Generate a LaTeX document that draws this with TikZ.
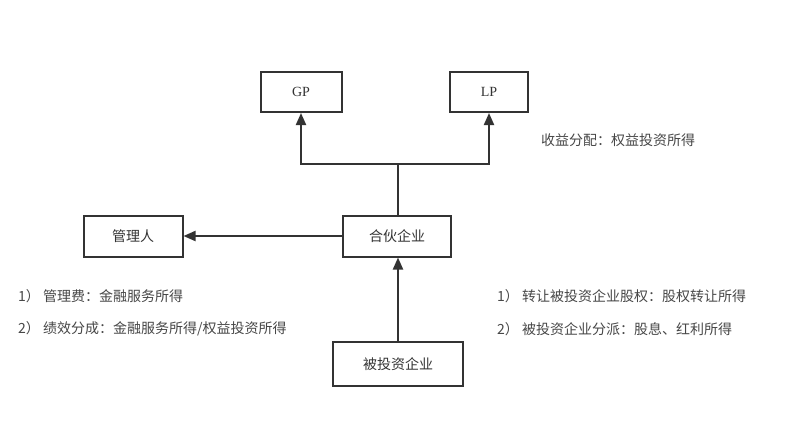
\documentclass[tikz,border=0pt]{standalone}
\usepackage{fontspec}
\setmainfont{Liberation Serif}
\newfontfamily\cjk{Noto Sans CJK SC}
\usetikzlibrary{arrows.meta}
\definecolor{ink}{HTML}{333333}

\begin{document}
\begin{tikzpicture}[x=1pt,y=-1pt,
    box/.style={draw=ink,line width=2pt,text=ink,inner sep=0pt,font=\fontsize{14}{16}\selectfont\cjk},
    note/.style={anchor=west,inner sep=0pt,text=ink!90,font=\fontsize{14}{16}\selectfont\cjk},
    arr/.style={draw=ink,line width=2pt,-{Triangle[length=12pt,width=10pt]}}]
  \useasboundingbox[fill=white] (0,0) rectangle (800,421);
  % boxes
  \node[box,minimum width=81pt,minimum height=40pt] (gp) at (301,92) {\rmfamily GP};
  \node[box,minimum width=78pt,minimum height=40pt] (lp) at (489,92) {\rmfamily LP};
  \node[box,minimum width=108pt,minimum height=41pt] (firm) at (397,236) {合伙企业};
  \node[box,minimum width=99pt,minimum height=41pt] (mgr) at (133,236) {管理人};
  \node[box,minimum width=130pt,minimum height=44pt] (target) at (398,364) {被投资企业};
  \coordinate (split) at (398,164);
  % connectors
  \draw[draw=ink,line width=2pt] (firm.north -| split) -- (split);
  \draw[arr] (split) -| (gp.south);
  \draw[arr] (split) -| (lp.south);
  \draw[arr] (firm.west) -- (mgr.east);
  \draw[arr] (target.north -| split) -- (firm.south -| split);
  % notes
  \node[note] (gain) at (541,140) {收益分配：权益投资所得};
  \node[note] (fee) at (18,296) {1）\ 管理费：金融服务所得};
  \node[note] (carry) at (18,329) {2）\ 绩效分成：金融服务所得/权益投资所得};
  \node[note] (sale) at (497,296) {1）\ 转让被投资企业股权：股权转让所得};
  \node[note] (div) at (497,329) {2）\ 被投资企业分派：股息、红利所得};
\end{tikzpicture}
\end{document}
